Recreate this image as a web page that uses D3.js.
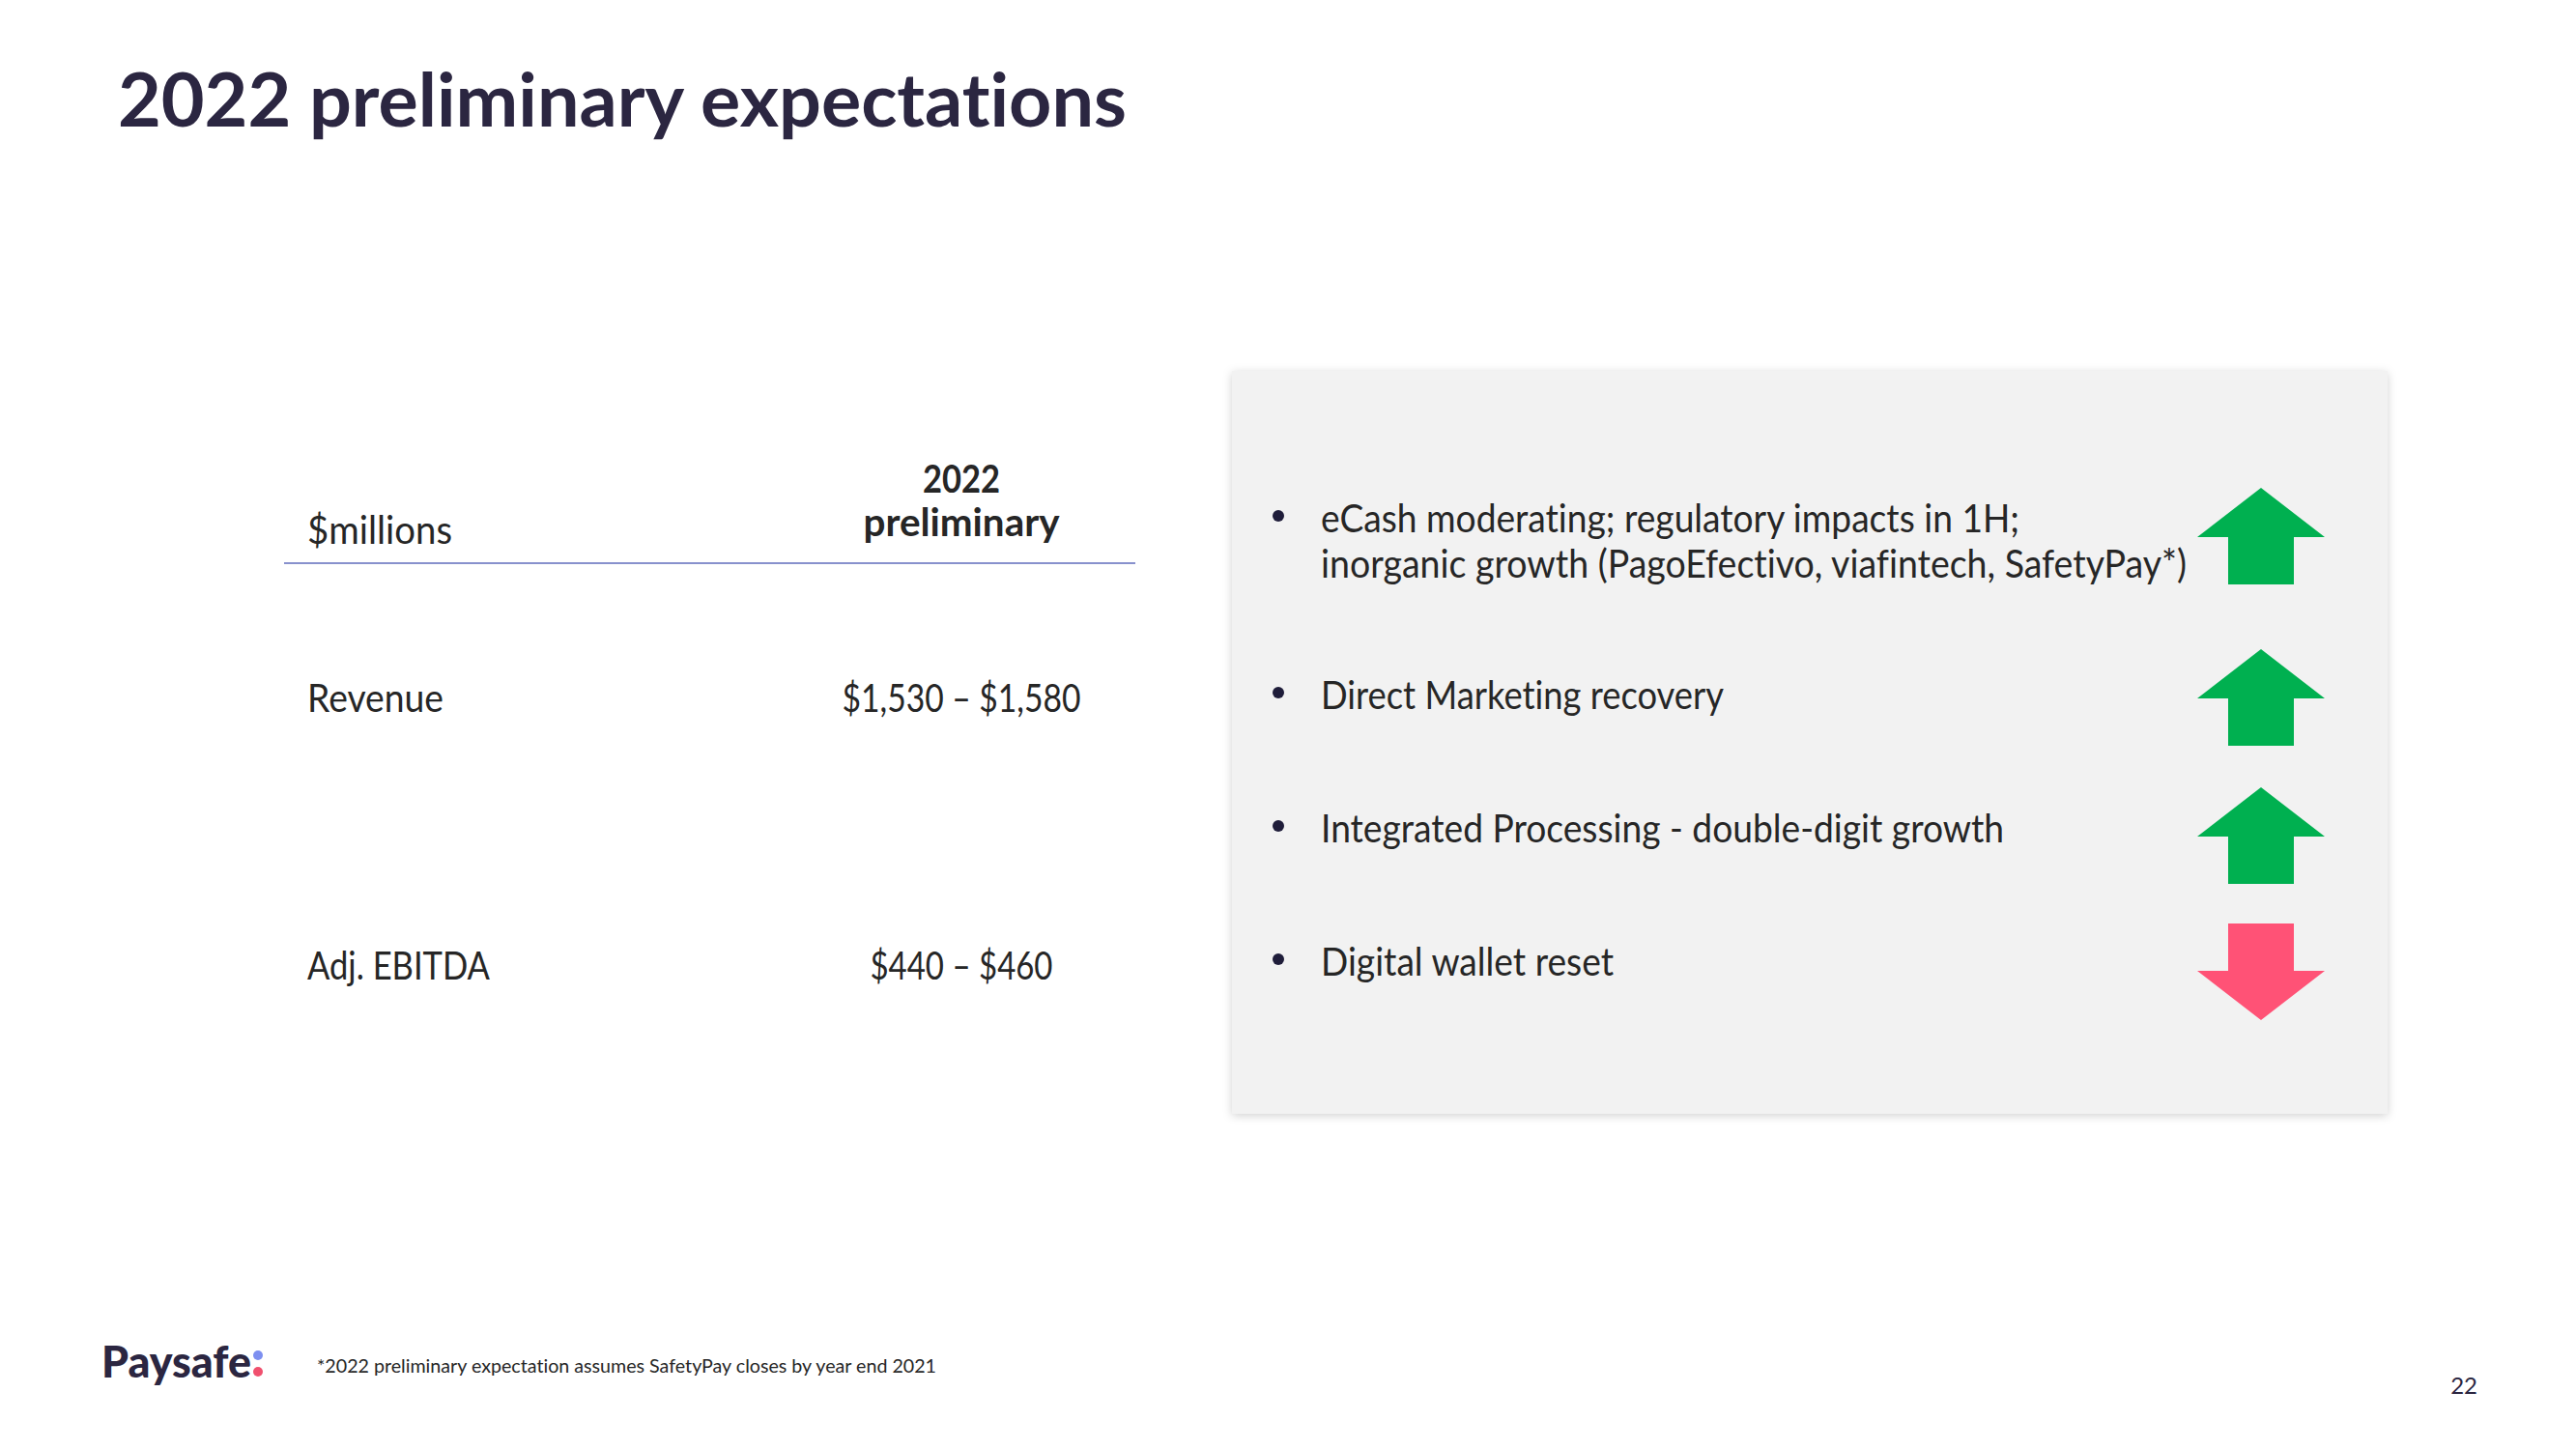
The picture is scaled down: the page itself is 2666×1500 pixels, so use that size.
<!DOCTYPE html>
<html>
<head>
<meta charset="utf-8">
<script src="https://cdn.jsdelivr.net/npm/d3@7"></script>
<style>
  html, body { margin: 0; padding: 0; background: #ffffff; }
  svg { display: block; }
  text { font-family: "Lato", "Noto Sans", sans-serif; font-variant-ligatures: none; font-feature-settings: "liga" 0, "clig" 0; }
</style>
</head>
<body>
<script>
// ---- data ----
const title = "2022 preliminary expectations";
const unitLabel = "$millions";
const columnHeader = ["2022", "preliminary"];
const rowLabels = ["Revenue", "Adj. EBITDA"];
const rowValues = ["$1,530 – $1,580", "$440 – $460"];
const bulletItems = [
  ["eCash moderating; regulatory impacts in 1H;", "inorganic growth (PagoEfectivo, viafintech, SafetyPay*)"],
  ["Direct Marketing recovery"],
  ["Integrated Processing - double-digit growth"],
  ["Digital wallet reset"]
];
const bulletDirections = ["up", "up", "up", "down"];
const footnote = "*2022 preliminary expectation assumes SafetyPay closes by year end 2021";
const brand = "Paysafe";
const pageNumber = "22";

// ---- layout ----
const W = 2666, H = 1500;
const svg = d3.select("body").append("svg").attr("width", W).attr("height", H);

const defs = svg.append("defs");
const f = defs.append("filter").attr("id", "shadow").attr("x", "-5%").attr("y", "-5%").attr("width", "110%").attr("height", "110%");
f.append("feDropShadow").attr("dx", 0).attr("dy", 2).attr("stdDeviation", 5).attr("flood-color", "#000").attr("flood-opacity", 0.18);

const dark = "#2b2641";
const textCol = "#262626";

// Title
svg.append("text").attr("x", 122).attr("y", 131)
  .attr("font-size", 76).attr("font-weight", 700).attr("fill", dark)
  .attr("textLength", 1044).attr("lengthAdjust", "spacingAndGlyphs")
  .text(title);

// ---- Table ----
const tableX = d3.scaleLinear().domain([0, 1]).range([294, 1175]);
const labelX = 318, valueX = 995;
const rowY = d3.scalePoint().domain(rowLabels).range([737, 1014]);

svg.append("text").attr("x", labelX).attr("y", 563).attr("font-size", 40).attr("fill", textCol)
  .attr("textLength", 150).attr("lengthAdjust", "spacingAndGlyphs").text(unitLabel);
const hdrW = [80, 203];
svg.selectAll("text.hdr").data(columnHeader).join("text").attr("class", "hdr")
  .attr("x", valueX).attr("y", (d, i) => 510 + i * 45)
  .attr("text-anchor", "middle").attr("font-size", 40).attr("font-weight", 700).attr("fill", textCol)
  .attr("textLength", (d, i) => hdrW[i]).attr("lengthAdjust", "spacingAndGlyphs")
  .text(d => d);
svg.append("line").attr("x1", tableX(0)).attr("x2", tableX(1)).attr("y1", 583).attr("y2", 583)
  .attr("stroke", "#8891cd").attr("stroke-width", 2.2);

const labelW = [141, 189], valueW = [247, 189];
svg.selectAll("text.rowlabel").data(rowLabels).join("text").attr("class", "rowlabel")
  .attr("x", labelX).attr("y", d => rowY(d)).attr("font-size", 40).attr("fill", textCol)
  .attr("textLength", (d, i) => labelW[i]).attr("lengthAdjust", "spacingAndGlyphs")
  .text(d => d);
svg.selectAll("text.rowvalue").data(rowValues).join("text").attr("class", "rowvalue")
  .attr("x", valueX).attr("y", (d, i) => rowY(rowLabels[i])).attr("text-anchor", "middle")
  .attr("font-size", 40).attr("fill", textCol)
  .attr("textLength", (d, i) => valueW[i]).attr("lengthAdjust", "spacingAndGlyphs")
  .text(d => d);

// ---- Panel ----
svg.append("rect").attr("x", 1275).attr("y", 384).attr("width", 1196).attr("height", 769)
  .attr("fill", "#f2f2f2").attr("filter", "url(#shadow)");

const idx = bulletItems.map((d, i) => i);
const arrowY = d3.scaleOrdinal().domain(idx).range([555, 722, 865, 1006]); // arrow centre
const textY = d3.scaleOrdinal().domain(idx).range([551, 734, 872, 1010]); // first baseline
const lineW = [[723, 896], [417], [707], [303]];
const lineH = 47;
const bulletX = 1323, textX = 1367;

const items = svg.selectAll("g.item").data(bulletItems).join("g").attr("class", "item");
items.append("circle").attr("cx", bulletX).attr("cy", (d, i) => textY(i) - 17).attr("r", 6).attr("fill", "#1f1d3a");
items.each(function(lines, i) {
  d3.select(this).selectAll("text").data(lines).join("text")
    .attr("x", textX).attr("y", (d, j) => textY(i) + j * lineH)
    .attr("font-size", 40).attr("fill", textCol)
    .attr("textLength", (d, j) => lineW[i][j]).attr("lengthAdjust", "spacingAndGlyphs")
    .text(d => d);
});

// arrows
const ax = 2340, headHalf = 66, shaftHalf = 34, headH = 51, totalH = 100;
function arrowPath(cy, dir) {
  const top = cy - totalH / 2, bot = cy + totalH / 2;
  if (dir === "up") {
    const hb = top + headH;
    return `M${ax},${top} L${ax + headHalf},${hb} L${ax + shaftHalf},${hb} L${ax + shaftHalf},${bot} L${ax - shaftHalf},${bot} L${ax - shaftHalf},${hb} L${ax - headHalf},${hb} Z`;
  } else {
    const hb = bot - headH;
    return `M${ax},${bot} L${ax + headHalf},${hb} L${ax + shaftHalf},${hb} L${ax + shaftHalf},${top} L${ax - shaftHalf},${top} L${ax - shaftHalf},${hb} L${ax - headHalf},${hb} Z`;
  }
}
const arrowColor = d3.scaleOrdinal().domain(["up", "down"]).range(["#00b050", "#ff5276"]);
svg.selectAll("path.arrow").data(bulletDirections).join("path").attr("class", "arrow")
  .attr("d", (d, i) => arrowPath(arrowY(i), d))
  .attr("fill", d => arrowColor(d));

// ---- Footer ----
svg.append("text").attr("x", 105).attr("y", 1426).attr("font-size", 45).attr("font-weight", 900)
  .attr("fill", dark).attr("textLength", 155).attr("lengthAdjust", "spacingAndGlyphs").text(brand);
svg.append("circle").attr("cx", 267).attr("cy", 1403).attr("r", 5).attr("fill", "#7d8ff0");
svg.append("circle").attr("cx", 267).attr("cy", 1420).attr("r", 5).attr("fill", "#f0506e");

svg.append("text").attr("x", 328).attr("y", 1421).attr("font-size", 19).attr("fill", textCol)
  .attr("textLength", 641).attr("lengthAdjust", "spacingAndGlyphs").text(footnote);

svg.append("text").attr("x", 2564).attr("y", 1443).attr("text-anchor", "end").attr("font-size", 24)
  .attr("fill", dark).text(pageNumber);
</script>
</body>
</html>
